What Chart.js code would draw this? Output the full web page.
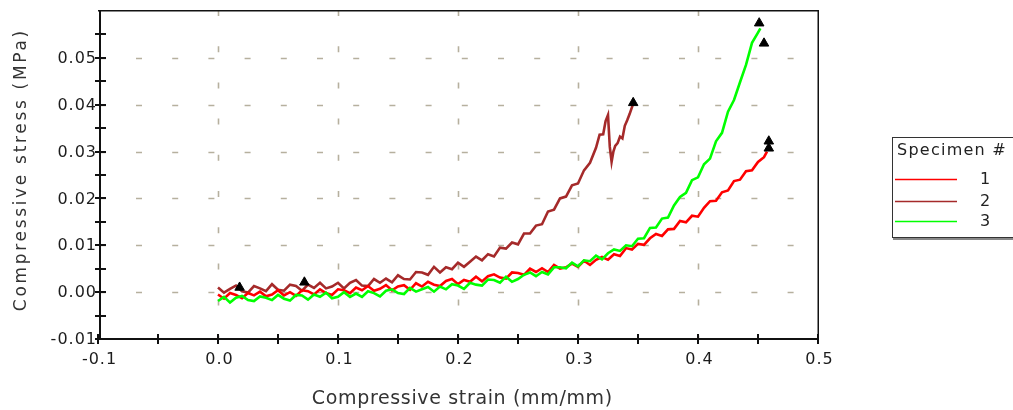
<!DOCTYPE html>
<html><head><meta charset="utf-8">
<style>html,body{margin:0;padding:0;background:#fff;}canvas{display:block;}</style>
<script src="https://cdn.jsdelivr.net/npm/chart.js@4.4.0/dist/chart.umd.min.js"></script>
</head><body>
<canvas id="c" width="1013" height="410"></canvas>
<script>
// ---- data ----
const strain1 = [0,0.005,0.01,0.015,0.02,0.025,0.03,0.035,0.04,0.045,
0.05,0.055,0.06,0.065,0.07,0.075,0.08,0.085,0.09,0.095,
0.1,0.105,0.11,0.115,0.12,0.125,0.13,0.135,0.14,0.145,
0.15,0.155,0.16,0.165,0.17,0.175,0.18,0.185,0.19,0.195,
0.2,0.205,0.21,0.215,0.22,0.225,0.23,0.235,0.24,0.245,
0.25,0.255,0.26,0.265,0.27,0.275,0.28,0.285,0.29,0.295,
0.3,0.305,0.31,0.315,0.32,0.325,0.33,0.335,0.34,0.345,
0.35,0.355,0.36,0.365,0.37,0.375,0.38,0.385,0.39,0.395,
0.4,0.405,0.41,0.415,0.42,0.425,0.43,0.435,0.44,0.445,
0.45,0.455,0.4575];
const stress1 = [-0.0005,-0.0014,-0.0002,-0.0006,-0.0013,-0.0002,-0.0007,0.0001,-0.0009,-0.0005,
0.0004,-0.0007,0.0000,-0.0008,0.0004,0.0002,-0.0005,0.0006,-0.0002,-0.0006,
0.0006,0.0004,-0.0002,0.0010,0.0004,0.0013,0.0003,0.0007,0.0015,0.0004,
0.0012,0.0015,0.0005,0.0019,0.0012,0.0022,0.0016,0.0013,0.0024,0.0028,
0.0017,0.0026,0.0022,0.0033,0.0023,0.0034,0.0038,0.0031,0.0029,0.0042,
0.0041,0.0037,0.0050,0.0043,0.0051,0.0043,0.0058,0.0050,0.0053,0.0061,
0.0054,0.0067,0.0058,0.0069,0.0075,0.0069,0.0081,0.0077,0.0094,0.0091,
0.0103,0.0101,0.0115,0.0124,0.0120,0.0134,0.0135,0.0152,0.0149,0.0163,
0.0161,0.0180,0.0194,0.0195,0.0213,0.0217,0.0237,0.0240,0.0258,0.0260,
0.0278,0.0288,0.0300];

const strain2 = [0,0.005,0.01,0.015,0.02,0.025,0.03,0.035,0.04,0.045,
0.05,0.055,0.06,0.065,0.07,0.075,0.08,0.085,0.09,0.095,
0.1,0.105,0.11,0.115,0.12,0.125,0.13,0.135,0.14,0.145,
0.15,0.155,0.16,0.165,0.17,0.175,0.18,0.185,0.19,0.195,
0.2,0.205,0.21,0.215,0.22,0.225,0.23,0.235,0.24,0.245,
0.25,0.255,0.26,0.265,0.27,0.275,0.28,0.285,0.29,0.295,
0.3,0.305,0.31,0.315,0.318,0.321,0.323,0.325,0.3265,0.328,
0.3295,0.331,0.333,0.335,0.337,0.339,0.341,0.343,0.345,0.346];
const stress2 = [0.0010,-0.0001,0.0007,0.0014,0.0002,-0.0001,0.0013,0.0008,0.0002,0.0017,
0.0005,0.0003,0.0016,0.0013,0.0003,0.0016,0.0009,0.0020,0.0008,0.0012,
0.0020,0.0008,0.0020,0.0026,0.0014,0.0013,0.0028,0.0020,0.0029,0.0021,
0.0036,0.0028,0.0027,0.0043,0.0042,0.0037,0.0054,0.0042,0.0053,0.0049,
0.0063,0.0054,0.0065,0.0076,0.0068,0.0081,0.0076,0.0095,0.0093,0.0106,
0.0102,0.0125,0.0125,0.0142,0.0145,0.0172,0.0176,0.0200,0.0204,0.0228,
0.0232,0.0260,0.0276,0.0308,0.0336,0.0337,0.0365,0.0378,0.0310,0.0278,
0.0300,0.0312,0.0318,0.0332,0.0328,0.0355,0.0367,0.0380,0.0395,0.0402];

const strain3 = [0,0.005,0.01,0.015,0.02,0.025,0.03,0.035,0.04,0.045,
0.05,0.055,0.06,0.065,0.07,0.075,0.08,0.085,0.09,0.095,
0.1,0.105,0.11,0.115,0.12,0.125,0.13,0.135,0.14,0.145,
0.15,0.155,0.16,0.165,0.17,0.175,0.18,0.185,0.19,0.195,
0.2,0.205,0.21,0.215,0.22,0.225,0.23,0.235,0.24,0.245,
0.25,0.255,0.26,0.265,0.27,0.275,0.28,0.285,0.29,0.295,
0.3,0.305,0.31,0.315,0.32,0.325,0.33,0.335,0.34,0.345,
0.35,0.355,0.36,0.365,0.37,0.375,0.38,0.385,0.39,0.395,
0.4,0.405,0.41,0.415,0.42,0.425,0.43,0.435,0.44,0.445,
0.45,0.452];
const stress3 = [-0.0019,-0.0010,-0.0022,-0.0012,-0.0008,-0.0017,-0.0019,-0.0009,-0.0012,-0.0017,
-0.0006,-0.0014,-0.0018,-0.0006,-0.0007,-0.0016,-0.0005,-0.0010,-0.0001,-0.0013,
-0.0010,0.0000,-0.0010,-0.0003,-0.0010,0.0002,-0.0002,-0.0009,0.0003,0.0006,
-0.0002,-0.0004,0.0009,0.0001,0.0006,0.0011,0.0001,0.0012,0.0006,0.0017,
0.0014,0.0007,0.0020,0.0016,0.0014,0.0027,0.0026,0.0020,0.0033,0.0022,
0.0028,0.0037,0.0042,0.0034,0.0043,0.0038,0.0053,0.0053,0.0051,0.0063,
0.0055,0.0068,0.0066,0.0078,0.0070,0.0083,0.0091,0.0088,0.0100,0.0098,
0.0114,0.0115,0.0137,0.0138,0.0157,0.0159,0.0185,0.0203,0.0212,0.0239,
0.0245,0.0273,0.0285,0.0322,0.0340,0.0385,0.0410,0.0448,0.0485,0.0532,
0.0554,0.0563];

const markerStrain = [0.018,0.072,0.346,0.451,0.455,0.459,0.459];
const markerStress = [0.0010,0.0021,0.0404,0.0574,0.0531,0.0322,0.0307];

const xTickValues = [-0.1,0,0.1,0.2,0.3,0.4,0.5];
const xTickLabels = ['-0.1','0.0','0.1','0.2','0.3','0.4','0.5'];
const xMinorValues = [-0.05,0.05,0.15,0.25,0.35,0.45];
const yTickValues = [-0.01,0,0.01,0.02,0.03,0.04,0.05];
const yTickLabels = ['-0.01','0.00','0.01','0.02','0.03','0.04','0.05'];
const yMinorValues = [-0.005,0.005,0.015,0.025,0.035,0.045,0.055];

const seriesNames = ['1','2','3'];
const seriesColors = ['#ff0000','#a52a2a','#00ff00'];
const legendTitle = 'Specimen #';
const xTitle = 'Compressive strain (mm/mm)';
const yTitle = 'Compressive stress (MPa)';

// ---- build ----
const pts = (xs, ys) => xs.map((v, i) => ({x: v, y: ys[i]}));

function spaced(ctx, text, x, y, target, align) {
  ctx.letterSpacing = '0px';
  const w = ctx.measureText(text).width;
  const ls = (target - w) / text.length;
  ctx.letterSpacing = ls + 'px';
  ctx.textAlign = align;
  ctx.fillText(text, align === 'center' ? x + ls / 2 : x, y);
  ctx.letterSpacing = '0px';
}

const framePlugin = {
  id: 'frame',
  beforeDatasetsDraw(chart) {
    const {ctx, chartArea: a, scales: {x, y}} = chart;
    ctx.save();
    ctx.strokeStyle = '#b6b09e';
    ctx.lineWidth = 1.6;
    ctx.setLineDash([6, 30.2]);
    ctx.lineDashOffset = -1.8;
    yTickValues.forEach(v => {
      if (v <= y.min || v >= y.max) return;
      const py = Math.round(y.getPixelForValue(v)) + 0.5;
      ctx.beginPath(); ctx.moveTo(a.left, py); ctx.lineTo(a.right, py); ctx.stroke();
    });
    ctx.lineDashOffset = 1;
    xTickValues.forEach(v => {
      if (v <= x.min || v >= x.max) return;
      const px = Math.round(x.getPixelForValue(v)) + 0.5;
      ctx.beginPath(); ctx.moveTo(px, a.top); ctx.lineTo(px, a.bottom); ctx.stroke();
    });
    ctx.restore();
  },
  afterDatasetsDraw(chart) {
    const {ctx, chartArea: a, scales: {x, y}} = chart;
    ctx.save();
    ctx.fillStyle = '#111';
    ctx.fillRect(a.left, a.top - 1, a.right - a.left + 1, 1.5);
    ctx.fillRect(a.right - 0.5, a.top - 1, 1.5, a.bottom - a.top + 1);
    ctx.fillRect(a.left + 1, a.top - 1, 2, a.bottom - a.top + 2);
    ctx.fillRect(a.left + 1, a.bottom - 1, a.right - a.left, 2);
    yTickValues.concat(yMinorValues).forEach(v => {
      const py = Math.round(y.getPixelForValue(v));
      ctx.fillRect(a.left - 3, py - 1, 11, 2);
    });
    xTickValues.concat(xMinorValues).forEach(v => {
      const px = Math.round(x.getPixelForValue(v));
      ctx.fillRect(px - 1, a.bottom - 5, 2, 10);
    });
    ctx.fillStyle = '#1c1c1c';
    ctx.font = '16px "DejaVu Sans"';
    ctx.textBaseline = 'middle';
    ctx.letterSpacing = '1px';
    ctx.textAlign = 'right';
    yTickValues.forEach((v, i) => {
      ctx.fillText(yTickLabels[i], a.left - 1, y.getPixelForValue(v) + 1);
    });
    ctx.textAlign = 'center';
    xTickValues.forEach((v, i) => {
      ctx.fillText(xTickLabels[i], x.getPixelForValue(v) + 1.5, a.bottom + 21);
    });
    ctx.letterSpacing = '0px';
    ctx.fillStyle = '#333';
    ctx.font = '19px "DejaVu Sans"';
    spaced(ctx, xTitle, 462, 399, 301, 'center');
    ctx.save();
    ctx.translate(22, 171);
    ctx.rotate(-Math.PI / 2);
    ctx.font = '17px "DejaVu Sans"';
    spaced(ctx, yTitle, 0, 0, 283, 'center');
    ctx.restore();
    // legend
    ctx.fillStyle = '#888';
    ctx.fillRect(893, 238, 130, 2);
    ctx.fillStyle = '#fff';
    ctx.fillRect(892, 137, 130, 100);
    ctx.strokeStyle = '#333';
    ctx.lineWidth = 1;
    ctx.strokeRect(892.5, 137.5, 130, 100);
    ctx.fillStyle = '#222';
    ctx.font = '16px "DejaVu Sans"';
    ctx.textBaseline = 'middle';
    spaced(ctx, legendTitle, 897, 151, 110, 'left');
    const ly = [179, 201, 221];
    seriesNames.forEach((n, i) => {
      ctx.strokeStyle = seriesColors[i];
      ctx.lineWidth = 1.5;
      ctx.beginPath(); ctx.moveTo(895, ly[i] + 0.5); ctx.lineTo(957, ly[i] + 0.5); ctx.stroke();
      ctx.fillStyle = '#222';
      ctx.font = '16px "DejaVu Sans"';
      ctx.textAlign = 'center';
      ctx.fillText(n, 985, ly[i] + 1);
    });
    ctx.restore();
  }
};

new Chart(document.getElementById('c'), {
  type: 'scatter',
  data: {
    datasets: [
      {label: 'markers', data: pts(markerStrain, markerStress), showLine: false,
       pointStyle: 'triangle', pointRadius: 5.5, backgroundColor: '#000', borderColor: '#000', borderWidth: 1, order: 0},
      {label: seriesNames[2], data: pts(strain3, stress3), showLine: true, borderColor: seriesColors[2],
       borderWidth: 2.6, pointRadius: 0, tension: 0, fill: false, order: 1},
      {label: seriesNames[0], data: pts(strain1, stress1), showLine: true, borderColor: seriesColors[0],
       borderWidth: 2.6, pointRadius: 0, tension: 0, fill: false, order: 2},
      {label: seriesNames[1], data: pts(strain2, stress2), showLine: true, borderColor: seriesColors[1],
       borderWidth: 2.6, pointRadius: 0, tension: 0, fill: false, order: 3}
    ]
  },
  options: {
    responsive: false,
    devicePixelRatio: 1,
    animation: false,
    events: [],
    layout: {padding: {left: 98, right: 195, top: 11, bottom: 71}},
    plugins: {legend: {display: false}, tooltip: {enabled: false}},
    scales: {
      x: {type: 'linear', min: -0.1, max: 0.5, display: false},
      y: {type: 'linear', min: -0.01, max: 0.06, display: false}
    }
  },
  plugins: [framePlugin]
});
</script>
</body></html>
